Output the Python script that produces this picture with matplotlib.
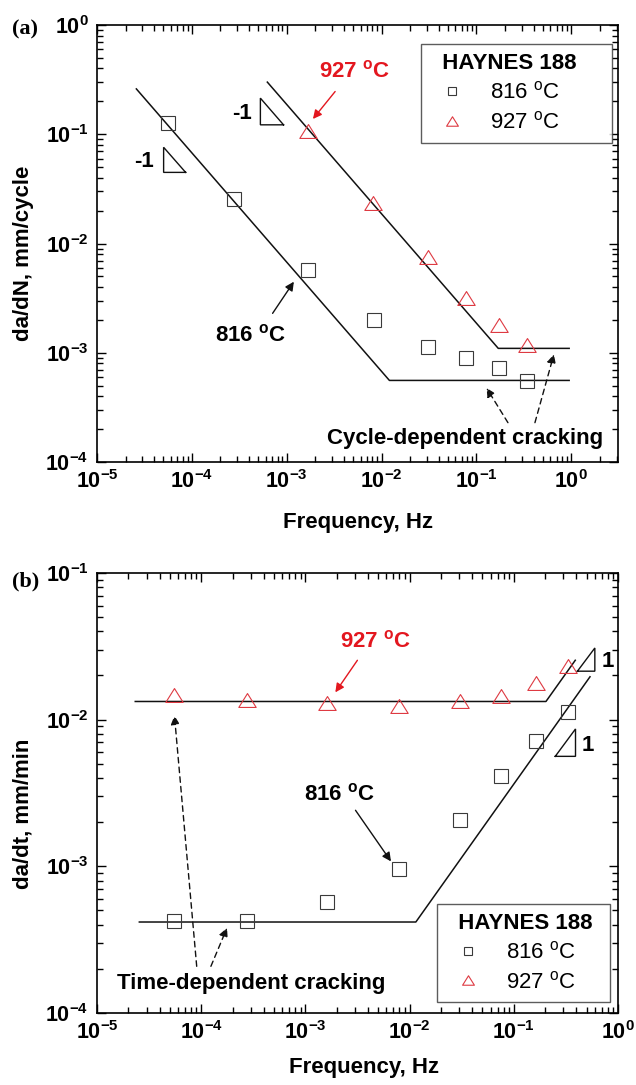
import numpy as np
import matplotlib
matplotlib.use("Agg")
import matplotlib.pyplot as plt
import matplotlib.ticker as ticker
from matplotlib.path import Path

plt.rcParams["font.family"] = ["Liberation Sans", "DejaVu Sans"]
plt.rcParams["mathtext.fontset"] = "custom"
plt.rcParams["mathtext.rm"] = "Liberation Sans"
plt.rcParams["mathtext.bf"] = "Liberation Sans:bold"
plt.rcParams["mathtext.it"] = "Liberation Sans:italic"

RED = "#e3171f"
TRI_RED = "#de3a42"
SQ_GRAY = "#3a3a3a"

# (a) crack growth per cycle
freq_816_a = [5.6e-5, 2.8e-4, 1.66e-3, 8.4e-3, 0.031, 0.078, 0.171, 0.339]
dadn_816 = [0.128, 0.0255, 5.7e-3, 2.0e-3, 1.14e-3, 9.0e-4, 7.2e-4, 5.5e-4]
freq_927_a = [1.66e-3, 8.2e-3, 0.031, 0.078, 0.175, 0.34]
dadn_927 = [0.108, 0.0233, 7.55e-3, 3.15e-3, 1.8e-3, 1.17e-3]

# (a) model lines: slope -1 then cycle-dependent plateau
fit_816_a_f = [2.6e-5, 0.0121, 0.95]
fit_816_a_v = [0.26, 5.6e-4, 5.6e-4]
fit_927_a_f = [6.25e-4, 0.17, 0.95]
fit_927_a_v = [0.30, 1.1e-3, 1.1e-3]

# (b) crack growth per time
freq_b = [5.44e-5, 2.77e-4, 1.62e-3, 8.0e-3, 0.0303, 0.076, 0.165, 0.333]
dadt_816 = [4.22e-4, 4.27e-4, 5.68e-4, 9.64e-4, 2.08e-3, 4.15e-3, 7.19e-3, 1.128e-2]
dadt_927 = [0.0148, 0.01368, 0.0130, 0.01245, 0.01334, 0.01442, 0.0178, 0.0231]

# (b) model lines: time-dependent plateau then slope 1
fit_816_b_f = [2.55e-5, 0.0115, 0.54]
fit_816_b_v = [4.17e-4, 4.17e-4, 0.0196]
fit_927_b_f = [2.33e-5, 0.204, 0.39]
fit_927_b_v = [0.0133, 0.0133, 0.0254]

# open triangle, a bit wider than tall
TRI = Path([(-1, -0.8), (1, -0.8), (0, 0.8), (-1, -0.8)], closed=True)


def sci_label(v, _):
    if v <= 0:
        return ""
    return r"$\mathbf{10^{%d}}$" % int(round(np.log10(v)))


def style_axes(ax, xlim, ylim):
    ax.set_xscale("log")
    ax.set_yscale("log")
    ax.set_xlim(*xlim)
    ax.set_ylim(*ylim)
    for axis in (ax.xaxis, ax.yaxis):
        axis.set_major_locator(ticker.LogLocator(base=10, numticks=20))
        axis.set_minor_locator(ticker.LogLocator(base=10, subs=np.arange(2, 10), numticks=20))
        axis.set_major_formatter(ticker.FuncFormatter(sci_label))
        axis.set_minor_formatter(ticker.NullFormatter())
    ax.tick_params(which="both", direction="in", top=True, right=True, width=1.0, labelsize=15.5)
    ax.tick_params(which="major", length=6.5, pad=6)
    ax.tick_params(which="minor", length=4.3)
    for s in ax.spines.values():
        s.set_linewidth(1.2)
    ax.set_xlabel("Frequency, Hz", fontsize=16, fontweight="bold")
    ax.xaxis.label.set_va("center")
    ax.yaxis.label.set_va("center")


def slope_mark(ax, xs, ys):
    ax.plot(xs, ys, color="#111111", lw=1.0, solid_joinstyle="miter")


def arrow(ax, tail, head, color="#111111", dashed=False):
    props = dict(arrowstyle="-|>", color=color, lw=1.0, mutation_scale=13,
                 shrinkA=0, shrinkB=0)
    if dashed:
        props["linestyle"] = (0, (4, 3))
    ax.annotate("", xy=head, xytext=tail, arrowprops=props)


def add_legend(ax, **kw):
    h1, = ax.plot([], [], ls="none", marker="s", ms=9.5, mfc="none", mec=SQ_GRAY, mew=0.8)
    h2, = ax.plot([], [], ls="none", marker=TRI, ms=12.5, mfc="none", mec=TRI_RED, mew=0.8)
    leg = ax.legend([h1, h2], [r"816 $^{\rm o}$C", r"927 $^{\rm o}$C"],
                    title="  HAYNES 188", fontsize=16,
                    title_fontproperties={"weight": "bold", "size": 16},
                    alignment="left", frameon=True, fancybox=False,
                    markerscale=0.68, handlelength=2.0, handletextpad=0.7,
                    borderpad=0.4, labelspacing=0.35, borderaxespad=0, **kw)
    leg.get_frame().set_edgecolor("#333333")
    leg.get_frame().set_linewidth(1.0)
    return leg


fig = plt.figure(figsize=(6.36, 10.85), dpi=100)
ax1 = fig.add_axes([0.1525, 0.574, 0.819, 0.403])
ax2 = fig.add_axes([0.1525, 0.0664, 0.819, 0.4055])

# ---- (a) da/dN ----
ax1.plot(fit_816_a_f, fit_816_a_v, color="#111111", lw=1.1)
ax1.plot(fit_927_a_f, fit_927_a_v, color="#111111", lw=1.1)
ax1.plot(freq_816_a, dadn_816, ls="none", marker="s", ms=9.5, mfc="none", mec=SQ_GRAY, mew=0.8)
ax1.plot(freq_927_a, dadn_927, ls="none", marker=TRI, ms=12.5, mfc="none", mec=TRI_RED, mew=0.8)
style_axes(ax1, (1e-5, 3.1), (1e-4, 1))
ax1.set_ylabel("da/dN, mm/cycle", fontsize=16, fontweight="bold")
ax1.xaxis.set_label_coords(0.501, -0.137)
ax1.yaxis.set_label_coords(-0.142, 0.477)

slope_mark(ax1, [8.6e-5, 5.04e-5, 5.04e-5, 8.6e-5], [0.0448, 0.0448, 0.076, 0.0448])
slope_mark(ax1, [9.26e-4, 5.28e-4, 5.28e-4, 9.26e-4], [0.122, 0.122, 0.214, 0.122])
ax1.text(3.15e-5, 0.0569, "-1", fontsize=16, fontweight="bold", ha="center", va="center")
ax1.text(3.4e-4, 0.156, "-1", fontsize=16, fontweight="bold", ha="center", va="center")

ax1.text(5.19e-3, 0.376, r"927 $^{\mathbf{o}}$C", color=RED, fontsize=16,
         fontweight="bold", ha="center", va="center")
arrow(ax1, (3.24e-3, 0.246), (1.89e-3, 0.138), color=RED)
ax1.text(4.14e-4, 1.45e-3, r"816 $^{\mathbf{o}}$C", fontsize=16,
         fontweight="bold", ha="center", va="center")
arrow(ax1, (7.1e-4, 2.3e-3), (1.19e-3, 4.48e-3))
ax1.text(0.076, 1.64e-4, "Cycle-dependent cracking", fontsize=16,
         fontweight="bold", ha="center", va="center")
arrow(ax1, (0.215, 2.3e-4), (0.128, 4.77e-4), dashed=True)
arrow(ax1, (0.414, 2.3e-4), (0.656, 9.7e-4), dashed=True)

add_legend(ax1, loc="upper left", bbox_to_anchor=(0.622, 0.717, 0.366, 0.239), mode="expand")

# ---- (b) da/dt ----
ax2.plot(fit_927_b_f, fit_927_b_v, color="#111111", lw=1.1)
ax2.plot(fit_816_b_f, fit_816_b_v, color="#111111", lw=1.1)
ax2.plot(freq_b, dadt_816, ls="none", marker="s", ms=9.5, mfc="none", mec=SQ_GRAY, mew=0.8)
ax2.plot(freq_b, dadt_927, ls="none", marker=TRI, ms=12.5, mfc="none", mec=TRI_RED, mew=0.8)
style_axes(ax2, (1e-5, 1), (1e-4, 1e-1))
ax2.set_ylabel("da/dt, mm/min", fontsize=16, fontweight="bold")
ax2.xaxis.set_label_coords(0.512, -0.123)
ax2.yaxis.set_label_coords(-0.142, 0.452)

slope_mark(ax2, [0.409, 0.601, 0.601, 0.409], [0.0214, 0.0214, 0.0308, 0.0214])
slope_mark(ax2, [0.2506, 0.392, 0.392, 0.2506], [5.62e-3, 5.62e-3, 8.64e-3, 5.62e-3])
ax2.text(0.80, 0.025, "1", fontsize=16, fontweight="bold", ha="center", va="center")
ax2.text(0.512, 6.65e-3, "1", fontsize=16, fontweight="bold", ha="center", va="center")

ax2.text(4.72e-3, 0.0342, r"927 $^{\mathbf{o}}$C", color=RED, fontsize=16,
         fontweight="bold", ha="center", va="center")
arrow(ax2, (3.16e-3, 0.0254), (1.94e-3, 0.01535), color=RED)
ax2.text(2.12e-3, 3.08e-3, r"816 $^{\mathbf{o}}$C", fontsize=16,
         fontweight="bold", ha="center", va="center")
arrow(ax2, (3.03e-3, 2.41e-3), (6.64e-3, 1.08e-3))
ax2.text(3.0e-4, 1.585e-4, "Time-dependent cracking", fontsize=16,
         fontweight="bold", ha="center", va="center")
arrow(ax2, (9.06e-5, 2.08e-4), (5.54e-5, 0.01065), dashed=True)
arrow(ax2, (1.24e-4, 2.08e-4), (1.77e-4, 3.8e-4), dashed=True)

add_legend(ax2, loc="lower left", bbox_to_anchor=(0.653, 0.025, 0.331, 0.22), mode="expand")

fig.text(0.019, 0.9724, "(a)", family="Liberation Serif", fontsize=16,
         fontweight="bold", ha="left", va="center")
fig.text(0.019, 0.4645, "(b)", family="Liberation Serif", fontsize=16,
         fontweight="bold", ha="left", va="center")

fig.savefig("out.png", dpi=100)
